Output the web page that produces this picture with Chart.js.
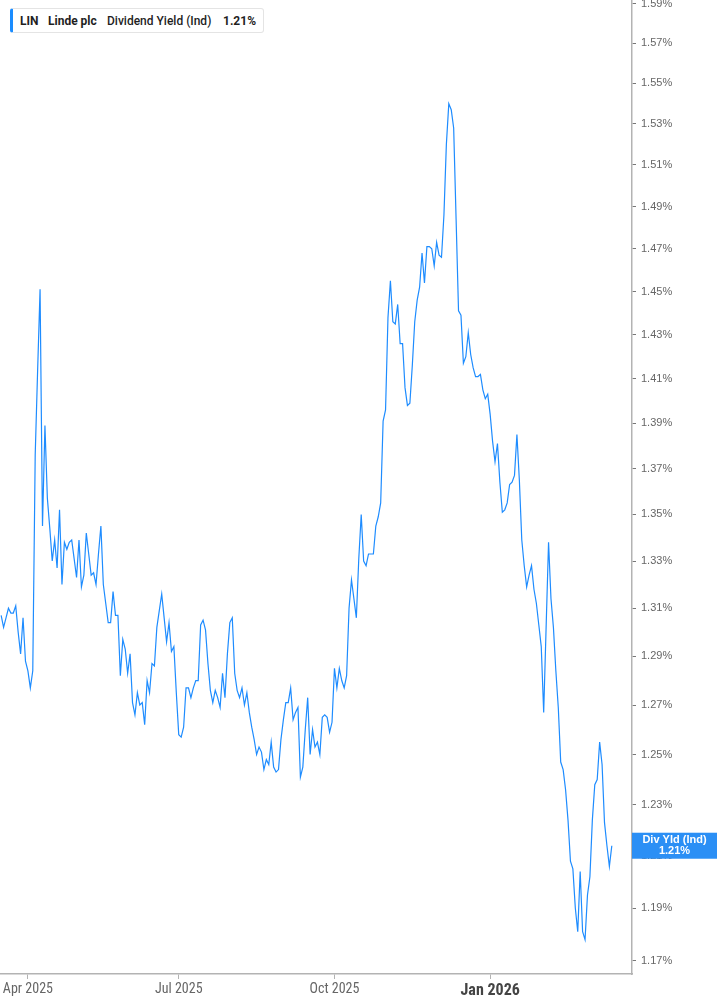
<!DOCTYPE html>
<html>
<head>
<meta charset="utf-8">
<script src="https://cdn.jsdelivr.net/npm/chart.js@4.4.1/dist/chart.umd.min.js"></script>
<style>
  html, body { margin: 0; padding: 0; background: #fff; }
  #wrap { position: relative; width: 717px; height: 1005px; }
  #legend {
    position: absolute; left: 10px; top: 8px; width: 250px; height: 23px;
    border: 1px solid #e4e4e4; border-left: 3px solid #1a8cff; border-radius: 3px;
    background: #fff; font-family: Roboto, "Liberation Sans", sans-serif; font-size: 12px; color: #1f1f1f;
  }
  #legend span { position: absolute; top: 5px; white-space: nowrap; }
  .b { font-weight: 700; }
  .m { font-weight: 500; }
</style>
</head>
<body>
<div id="wrap">
  <canvas id="c"></canvas>
  <div id="legend">
    <span class="b" style="left:7px">LIN</span>
    <span class="b" style="left:35px">Linde plc</span>
    <span class="m" style="left:94px">Dividend Yield (Ind)</span>
    <span class="b" style="left:210px">1.21%</span>
  </div>
</div>
<script>
// Trading-day index of the first trading day of each labelled month
const tickIdx = [11, 73, 137, 201];
const tickLabels = ['Apr 2025', 'Jul 2025', 'Oct 2025', 'Jan 2026'];
const yTicks = [1.17, 1.19, 1.21, 1.23, 1.25, 1.27, 1.29, 1.31, 1.33, 1.35, 1.37, 1.39, 1.41, 1.43, 1.45, 1.47, 1.49, 1.51, 1.53, 1.55, 1.57, 1.59];
const seriesName = 'Div Yld (Ind)';
// Daily dividend yield (%), one value per trading day, from mid-Mar 2025 to mid-Mar 2026
const divYield = [
  1.307, 1.302, 1.306, 1.310, 1.308, 1.308, 1.311, 1.300, 1.291, 1.306,
  1.288, 1.284, 1.277, 1.284, 1.376, 1.414, 1.451, 1.345, 1.389, 1.357,
  1.344, 1.330, 1.339, 1.327, 1.352, 1.320, 1.338, 1.335, 1.338, 1.339,
  1.331, 1.323, 1.339, 1.319, 1.324, 1.342, 1.333, 1.324, 1.325, 1.320,
  1.333, 1.345, 1.320, 1.312, 1.304, 1.304, 1.317, 1.307, 1.307, 1.282,
  1.297, 1.293, 1.283, 1.291, 1.271, 1.266, 1.275, 1.270, 1.271, 1.262,
  1.280, 1.275, 1.287, 1.286, 1.302, 1.309, 1.316, 1.306, 1.296, 1.304,
  1.292, 1.294, 1.275, 1.258, 1.257, 1.261, 1.277, 1.277, 1.273, 1.277,
  1.280, 1.280, 1.303, 1.305, 1.301, 1.287, 1.276, 1.271, 1.276, 1.273,
  1.269, 1.283, 1.273, 1.291, 1.304, 1.306, 1.283, 1.276, 1.273, 1.277,
  1.270, 1.275, 1.267, 1.261, 1.256, 1.250, 1.253, 1.251, 1.244, 1.248,
  1.246, 1.255, 1.245, 1.243, 1.244, 1.256, 1.264, 1.271, 1.271, 1.277,
  1.264, 1.267, 1.269, 1.241, 1.245, 1.260, 1.273, 1.250, 1.260, 1.253,
  1.255, 1.250, 1.265, 1.266, 1.265, 1.259, 1.263, 1.285, 1.277, 1.285,
  1.280, 1.277, 1.282, 1.310, 1.322, 1.314, 1.306, 1.331, 1.350, 1.330,
  1.328, 1.333, 1.333, 1.333, 1.345, 1.349, 1.355, 1.391, 1.396, 1.438,
  1.455, 1.436, 1.435, 1.444, 1.426, 1.426, 1.406, 1.398, 1.399, 1.416,
  1.436, 1.446, 1.452, 1.468, 1.454, 1.471, 1.471, 1.470, 1.462, 1.473,
  1.467, 1.466, 1.486, 1.520, 1.540, 1.537, 1.528, 1.484, 1.441, 1.439,
  1.417, 1.420, 1.431, 1.421, 1.415, 1.411, 1.411, 1.412, 1.405, 1.401,
  1.403, 1.394, 1.382, 1.373, 1.381, 1.364, 1.351, 1.352, 1.355, 1.363,
  1.364, 1.367, 1.385, 1.365, 1.339, 1.328, 1.319, 1.324, 1.328, 1.318,
  1.312, 1.303, 1.294, 1.267, 1.302, 1.338, 1.314, 1.302, 1.284, 1.269,
  1.247, 1.244, 1.236, 1.224, 1.208, 1.205, 1.190, 1.181, 1.204, 1.181,
  1.178, 1.195, 1.202, 1.224, 1.238, 1.240, 1.255, 1.246, 1.223, 1.214,
  1.206, 1.214
];

const points = divYield.map((v, i) => ({ x: i, y: v }));
const lastVal = divYield[divYield.length - 1];

const badgePlugin = {
  id: 'badge',
  afterDraw(chart) {
    const ctx = chart.ctx;
    const ys = chart.scales.y;
    const y = ys.getPixelForValue(lastVal);
    const x0 = chart.chartArea.right;
    const w = chart.width - x0;
    ctx.save();
    ctx.fillStyle = '#2b8ff5';
    ctx.fillRect(x0, y - 13, w, 26);
    ctx.fillStyle = '#ffffff';
    ctx.textAlign = 'center';
    ctx.textBaseline = 'middle';
    ctx.font = 'bold 11px "Liberation Sans", Arial, sans-serif';
    ctx.fillText(seriesName, x0 + w / 2, y - 5.5);
    ctx.fillText(lastVal.toFixed(2) + '%', x0 + w / 2, y + 5.5);
    ctx.restore();
  }
};

new Chart(document.getElementById('c'), {
  type: 'line',
  data: {
    datasets: [{
      label: seriesName,
      data: points,
      borderColor: '#1e8cff',
      borderWidth: 1.2,
      pointRadius: 0,
      tension: 0,
      fill: false
    }]
  },
  options: {
    responsive: true,
    maintainAspectRatio: false,
    animation: false,
    layout: { padding: 0 },
    plugins: { legend: { display: false }, tooltip: { enabled: false } },
    scales: {
      x: {
        type: 'linear',
        min: -0.47,
        max: 259.3,
        afterBuildTicks: s => { s.ticks = tickIdx.map(v => ({ value: v })); },
        afterFit: s => { s.height = 31; s.paddingLeft = 0; s.paddingRight = 0; },
        border: { display: true, color: '#b3b3b3', width: 1.5 },
        grid: { display: true, drawOnChartArea: false, drawTicks: true, tickLength: 5, color: '#b3b3b3' },
        ticks: {
          autoSkip: false, maxRotation: 0, padding: 2,
          color: ctx => (ctx.tick && ctx.tick.value === 201) ? '#444' : '#666',
          font: ctx => (ctx.tick && ctx.tick.value === 201)
            ? { family: '"Liberation Sans Narrow", "Roboto Condensed", Roboto, sans-serif', size: 16, weight: 'bold' }
            : { family: '"Liberation Sans Narrow", "Roboto Condensed", Roboto, sans-serif', size: 14 },
          callback: v => { const k = tickIdx.indexOf(v); return k >= 0 ? tickLabels[k] : ''; }
        }
      },
      y: {
        type: 'logarithmic',
        position: 'right',
        min: 1.1651,
        max: 1.592,
        afterBuildTicks: s => { s.ticks = yTicks.map(v => ({ value: v })); },
        afterFit: s => { s.width = 85; s.paddingTop = 0; s.paddingBottom = 0; },
        border: { display: true, color: '#b3b3b3', width: 1.5 },
        grid: { display: true, drawOnChartArea: false, drawTicks: true, tickLength: 4, color: '#777' },
        ticks: {
          padding: 5,
          color: '#666',
          font: { family: '"Liberation Sans", Arial, sans-serif', size: 11 },
          callback: v => Number(v).toFixed(2) + '%'
        }
      }
    }
  },
  plugins: [badgePlugin]
});
</script>
</body>
</html>
